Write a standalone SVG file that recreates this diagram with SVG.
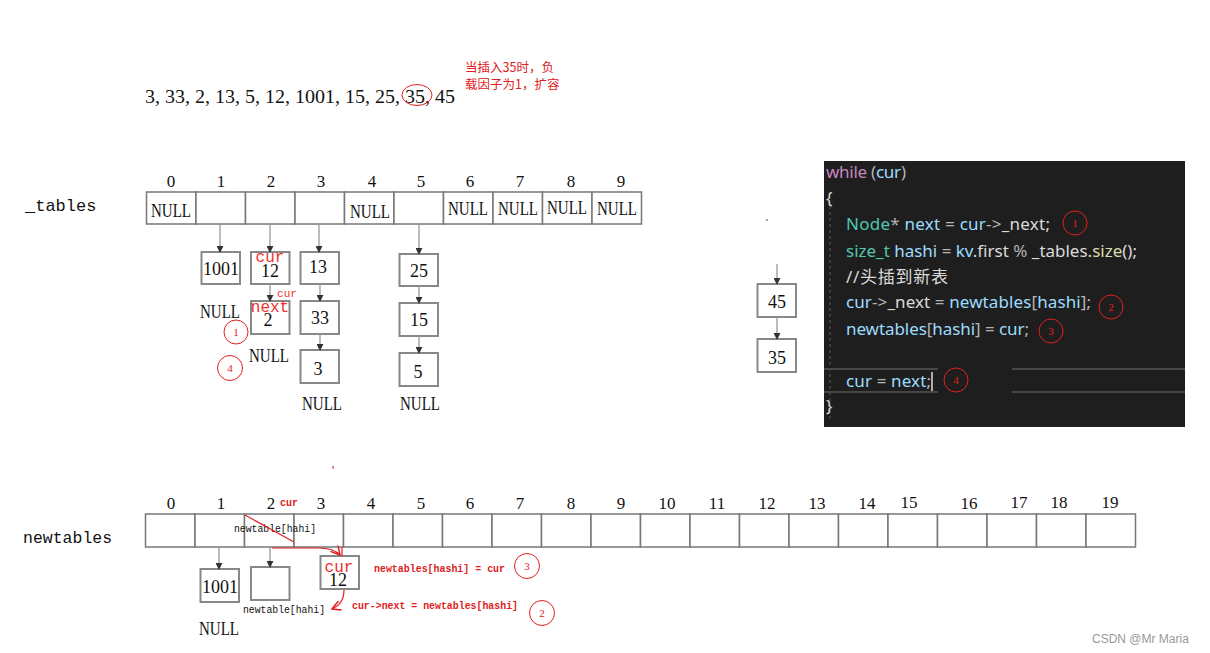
<svg xmlns="http://www.w3.org/2000/svg" width="1210" height="653" viewBox="0 0 1210 653">
<defs>
<marker id="ah" viewBox="0 0 8 8" refX="7" refY="4" markerWidth="7" markerHeight="7" markerUnits="userSpaceOnUse" orient="auto"><path d="M0,0 L8,4 L0,8 z" fill="#333"/></marker>
<marker id="rah" viewBox="0 0 10 10" refX="9" refY="5" markerWidth="10" markerHeight="10" markerUnits="userSpaceOnUse" orient="auto"><path d="M0,0 L9,5 L0,10" fill="none" stroke="#e02020" stroke-width="1.5"/></marker>
</defs>
<style>
.cell{fill:#fff;stroke:#777;stroke-width:1.5}
.box{fill:#fff;stroke:#888;stroke-width:2}
.num{font-family:"Liberation Serif",serif;font-size:18px;fill:#111;text-anchor:middle}
.idx{font-family:"Liberation Serif",serif;font-size:17px;fill:#111;text-anchor:middle}
.null{font-family:"Liberation Serif",serif;font-size:18px;fill:#111;text-anchor:middle}
.lbl{font-family:"Liberation Mono",monospace;fill:#111}
.conn{stroke:#999;stroke-width:1.3;fill:none}
.red{stroke:#e02020;stroke-width:1.2;fill:none}
.rc{fill:none;stroke:#e02020;stroke-width:1}
.rt{font-family:"Liberation Serif",serif;fill:#e02020;text-anchor:middle}
.rmono{font-family:"Liberation Mono",monospace;fill:#f03030;text-anchor:middle}
.rm{font-family:"Liberation Mono",monospace;fill:#e02020;font-weight:bold}
.code{font-family:"Noto Sans","DejaVu Sans","Noto Sans CJK SC",sans-serif;font-size:17px;fill:#dadada}
</style>
<rect width="1210" height="653" fill="#fff"/>

<g id="sequence">
<text x="145" y="103" font-family="Liberation Serif,serif" font-size="19" fill="#111" textLength="310" lengthAdjust="spacingAndGlyphs">3, 33, 2, 13, 5, 12, 1001, 15, 25, 35, 45</text>
<ellipse cx="417" cy="95" rx="15" ry="10.5" class="rc"/>
<text x="465" y="72" font-family="Noto Sans CJK SC,sans-serif" font-size="12.5" fill="#e02020">当插入35时，负</text>
<text x="465" y="89" font-family="Noto Sans CJK SC,sans-serif" font-size="12.5" fill="#e02020">载因子为1，扩容</text>
</g>

<g id="tables_label"><text class="lbl" x="25" y="211" font-size="17">_tables</text></g>

<g id="tables">
<rect class="cell" x="146.5" y="192" width="49.5" height="32"/>
<rect class="cell" x="196" y="192" width="49.5" height="32"/>
<rect class="cell" x="245.5" y="192" width="49.5" height="32"/>
<rect class="cell" x="295" y="192" width="49.5" height="32"/>
<rect class="cell" x="344.5" y="192" width="49.5" height="32"/>
<rect class="cell" x="394" y="192" width="49.5" height="32"/>
<rect class="cell" x="443.5" y="192" width="49.5" height="32"/>
<rect class="cell" x="493" y="192" width="49.5" height="32"/>
<rect class="cell" x="542.5" y="192" width="49.5" height="32"/>
<rect class="cell" x="592" y="192" width="49.5" height="32"/>
<text class="idx" x="171" y="187">0</text><text class="idx" x="221" y="187">1</text><text class="idx" x="271" y="187">2</text><text class="idx" x="321" y="187">3</text><text class="idx" x="372" y="187">4</text><text class="idx" x="421" y="187">5</text><text class="idx" x="470" y="187">6</text><text class="idx" x="520" y="187">7</text><text class="idx" x="571" y="187">8</text><text class="idx" x="621" y="187">9</text>
<text class="null" x="171" y="217" textLength="40" lengthAdjust="spacingAndGlyphs">NULL</text>
<text class="null" x="370" y="218" textLength="40" lengthAdjust="spacingAndGlyphs">NULL</text>
<text class="null" x="468" y="215" textLength="40" lengthAdjust="spacingAndGlyphs">NULL</text>
<text class="null" x="518" y="215" textLength="40" lengthAdjust="spacingAndGlyphs">NULL</text>
<text class="null" x="567" y="214" textLength="40" lengthAdjust="spacingAndGlyphs">NULL</text>
<text class="null" x="617" y="215" textLength="40" lengthAdjust="spacingAndGlyphs">NULL</text>
</g>

<g id="n1001"><rect class="box" x="201.5" y="252" width="38.5" height="32"/><text class="num" x="221" y="275">1001</text><text class="null" x="220" y="318" textLength="40" lengthAdjust="spacingAndGlyphs">NULL</text></g>
<g id="n12"><rect class="box" x="251" y="252" width="38.5" height="32"/><text class="num" x="270" y="277">12</text><text class="rmono" x="270" y="262" font-size="16">cur</text></g>
<g id="n2"><rect class="box" x="251" y="301" width="38.5" height="33"/><text class="num" x="268" y="326">2</text><text class="null" x="269" y="362" textLength="40" lengthAdjust="spacingAndGlyphs">NULL</text>
<text class="rmono" x="287" y="297" font-size="11">cur</text><text class="rmono" x="270" y="312" font-size="16">next</text></g>
<g id="n13"><rect class="box" x="300.5" y="252" width="38.5" height="32"/><text class="num" x="318" y="273">13</text></g>
<g id="n33"><rect class="box" x="300.5" y="301" width="38.5" height="33"/><text class="num" x="320" y="324">33</text></g>
<g id="n3"><rect class="box" x="300.5" y="350" width="38.5" height="33"/><text class="num" x="318" y="375">3</text><text class="null" x="322" y="410" textLength="40" lengthAdjust="spacingAndGlyphs">NULL</text></g>
<g id="n25"><rect class="box" x="399.5" y="254" width="38.5" height="32"/><text class="num" x="419" y="277">25</text></g>
<g id="n15"><rect class="box" x="399.5" y="303" width="38.5" height="33"/><text class="num" x="419" y="326">15</text></g>
<g id="n5"><rect class="box" x="399.5" y="353" width="38.5" height="33"/><text class="num" x="418" y="378">5</text><text class="null" x="420" y="410" textLength="40" lengthAdjust="spacingAndGlyphs">NULL</text></g>
<g id="n45"><rect class="box" x="757.5" y="284" width="38.5" height="33"/><text class="num" x="777" y="308">45</text></g>
<g id="n35"><rect class="box" x="757.5" y="339" width="38.5" height="33"/><text class="num" x="777" y="364">35</text></g>

<g id="marks">
<circle cx="236" cy="332" r="12" class="rc"/><text class="rt" x="236" y="336" font-size="11">1</text>
<circle cx="230" cy="368" r="12.5" class="rc"/><text class="rt" x="230" y="372" font-size="11">4</text>
<circle cx="767" cy="220" r="0.8" fill="#333"/>
<rect x="332.5" y="466" width="1.2" height="2.5" fill="#e02020"/>
</g>

<g id="code">
<rect x="824" y="161" width="361" height="266" fill="#1e1e1e"/>
<line x1="830" y1="206" x2="830" y2="422" stroke="#5a5a5a" stroke-width="1" stroke-dasharray="3,3"/>
<line x1="824" y1="369" x2="938" y2="369" stroke="#474747" stroke-width="2"/>
<line x1="824" y1="392" x2="938" y2="392" stroke="#474747" stroke-width="2"/>
<line x1="1012" y1="369" x2="1185" y2="369" stroke="#474747" stroke-width="2"/>
<line x1="1012" y1="392" x2="1185" y2="392" stroke="#474747" stroke-width="2"/>
<text class="code" x="826" y="178" textLength="80"><tspan fill="#c586c0">while</tspan><tspan fill="#b4b4b4"> (</tspan><tspan fill="#9cdcfe">cur</tspan><tspan fill="#b4b4b4">)</tspan></text>
<text class="code" x="826" y="204" fill="#b4b4b4">{</text>
<text class="code" x="846" y="230" textLength="204"><tspan fill="#4ec9b0">Node</tspan><tspan fill="#b4b4b4">* </tspan><tspan fill="#9cdcfe">next</tspan><tspan fill="#b4b4b4"> = </tspan><tspan fill="#9cdcfe">cur</tspan><tspan fill="#b4b4b4">-&gt;</tspan><tspan fill="#dadada">_next;</tspan></text>
<text class="code" x="846" y="257" textLength="291"><tspan fill="#4ec9b0">size_t</tspan><tspan fill="#dadada"> </tspan><tspan fill="#9cdcfe">hashi</tspan><tspan fill="#b4b4b4"> = </tspan><tspan fill="#9cdcfe">kv</tspan><tspan fill="#dadada">.first </tspan><tspan fill="#b4b4b4">% </tspan><tspan fill="#dadada">_tables.</tspan><tspan fill="#dcdcaa">size</tspan><tspan fill="#dadada">();</tspan></text>
<text class="code" x="846" y="283" fill="#57a64a" textLength="102">//头插到新表</text>
<text class="code" x="846" y="308" textLength="245"><tspan fill="#9cdcfe">cur</tspan><tspan fill="#b4b4b4">-&gt;</tspan><tspan fill="#dadada">_next</tspan><tspan fill="#b4b4b4"> = </tspan><tspan fill="#9cdcfe">newtables</tspan><tspan fill="#b4b4b4">[</tspan><tspan fill="#9cdcfe">hashi</tspan><tspan fill="#b4b4b4">];</tspan></text>
<text class="code" x="846" y="335" textLength="183"><tspan fill="#9cdcfe">newtables</tspan><tspan fill="#b4b4b4">[</tspan><tspan fill="#9cdcfe">hashi</tspan><tspan fill="#b4b4b4">] = </tspan><tspan fill="#9cdcfe">cur</tspan><tspan fill="#b4b4b4">;</tspan></text>
<text class="code" x="846" y="387" textLength="85"><tspan fill="#9cdcfe">cur</tspan><tspan fill="#b4b4b4"> = </tspan><tspan fill="#9cdcfe">next</tspan><tspan fill="#b4b4b4">;</tspan></text>
<line x1="932" y1="372" x2="932" y2="391" stroke="#dcdcdc" stroke-width="1.5"/>
<text class="code" x="826" y="412" fill="#b4b4b4">}</text>
<circle cx="1075" cy="223" r="12" class="rc"/><text class="rt" x="1075" y="227" font-size="11">1</text>
<circle cx="1111" cy="307" r="12" class="rc"/><text class="rt" x="1111" y="311" font-size="11">2</text>
<circle cx="1051" cy="331" r="12" class="rc"/><text class="rt" x="1051" y="335" font-size="11">3</text>
<circle cx="956" cy="380" r="12" class="rc"/><text class="rt" x="956" y="384" font-size="11">4</text>
</g>

<g id="newtables_label"><text class="lbl" x="23" y="543" font-size="16.5">newtables</text></g>

<g id="newtables">
<rect class="cell" x="145.5" y="514" width="49.5" height="33"/>
<rect class="cell" x="195" y="514" width="49.5" height="33"/>
<rect class="cell" x="244.5" y="514" width="49.5" height="33"/>
<rect class="cell" x="294" y="514" width="49.5" height="33"/>
<rect class="cell" x="343.5" y="514" width="49.5" height="33"/>
<rect class="cell" x="393" y="514" width="49.5" height="33"/>
<rect class="cell" x="442.5" y="514" width="49.5" height="33"/>
<rect class="cell" x="492" y="514" width="49.5" height="33"/>
<rect class="cell" x="541.5" y="514" width="49.5" height="33"/>
<rect class="cell" x="591" y="514" width="49.5" height="33"/>
<rect class="cell" x="640.5" y="514" width="49.5" height="33"/>
<rect class="cell" x="690" y="514" width="49.5" height="33"/>
<rect class="cell" x="739.5" y="514" width="49.5" height="33"/>
<rect class="cell" x="789" y="514" width="49.5" height="33"/>
<rect class="cell" x="838.5" y="514" width="49.5" height="33"/>
<rect class="cell" x="888" y="514" width="49.5" height="33"/>
<rect class="cell" x="937.5" y="514" width="49.5" height="33"/>
<rect class="cell" x="987" y="514" width="49.5" height="33"/>
<rect class="cell" x="1036.5" y="514" width="49.5" height="33"/>
<rect class="cell" x="1086" y="514" width="49.5" height="33"/>
<text class="idx" x="171" y="509">0</text><text class="idx" x="221" y="509">1</text><text class="idx" x="271" y="509">2</text><text class="idx" x="321" y="509">3</text><text class="idx" x="371" y="509">4</text><text class="idx" x="421" y="509">5</text><text class="idx" x="470" y="509">6</text><text class="idx" x="520" y="509">7</text><text class="idx" x="571" y="509">8</text><text class="idx" x="621" y="509">9</text><text class="idx" x="667" y="509">10</text><text class="idx" x="717" y="509">11</text><text class="idx" x="767" y="509">12</text><text class="idx" x="817" y="509">13</text><text class="idx" x="867" y="509">14</text><text class="idx" x="909" y="508">15</text><text class="idx" x="969" y="509">16</text><text class="idx" x="1019" y="508">17</text><text class="idx" x="1059" y="508">18</text><text class="idx" x="1110" y="508">19</text>
<text class="rm" x="280" y="506" font-size="10">cur</text>
<text class="lbl" x="234" y="532" font-size="11" textLength="82" lengthAdjust="spacingAndGlyphs">newtable[hahi]</text>
</g>

<g id="nn1001"><rect class="box" x="200.5" y="569" width="38.5" height="33"/><text class="num" x="220" y="593">1001</text><text class="null" x="219" y="635" textLength="40" lengthAdjust="spacingAndGlyphs">NULL</text></g>
<g id="nempty"><rect class="box" x="251" y="567" width="38.5" height="33"/><text class="lbl" x="243" y="613" font-size="11" textLength="82" lengthAdjust="spacingAndGlyphs">newtable[hahi]</text></g>
<g id="nn12"><rect class="box" x="320.5" y="556" width="38.5" height="33"/><text class="rmono" x="339" y="572" font-size="16">cur</text><text class="num" x="338" y="586">12</text></g>

<g id="annotations">
<text class="rm" x="374" y="572" font-size="10.5" textLength="131" lengthAdjust="spacingAndGlyphs">newtables[hashi] = cur</text>
<circle cx="527" cy="566" r="12.5" class="rc"/><text class="rt" x="527" y="570" font-size="11">3</text>
<text class="rm" x="352" y="609" font-size="10.5" textLength="166" lengthAdjust="spacingAndGlyphs">cur-&gt;next = newtables[hashi]</text>
<circle cx="542" cy="613" r="12.5" class="rc"/><text class="rt" x="542" y="617" font-size="11">2</text>
</g>

<g id="connectors">
<line class="conn" x1="220" y1="224" x2="220" y2="252" marker-end="url(#ah)"/>
<line class="conn" x1="270" y1="224" x2="270" y2="252" marker-end="url(#ah)"/>
<line class="conn" x1="319" y1="224" x2="319" y2="252" marker-end="url(#ah)"/>
<line class="conn" x1="419" y1="224" x2="419" y2="254" marker-end="url(#ah)"/>
<line class="conn" x1="270" y1="284" x2="270" y2="301" marker-end="url(#ah)"/>
<line class="conn" x1="320" y1="284" x2="320" y2="301" marker-end="url(#ah)"/>
<line class="conn" x1="320" y1="334" x2="320" y2="350" marker-end="url(#ah)"/>
<line class="conn" x1="419" y1="286" x2="419" y2="303" marker-end="url(#ah)"/>
<line class="conn" x1="419" y1="336" x2="419" y2="353" marker-end="url(#ah)"/>
<line class="conn" x1="777" y1="264" x2="777" y2="284" marker-end="url(#ah)"/>
<line class="conn" x1="777" y1="317" x2="777" y2="339" marker-end="url(#ah)"/>
<line class="conn" x1="219" y1="547" x2="219" y2="569" marker-end="url(#ah)"/>
<line class="conn" x1="270" y1="547" x2="270" y2="567" marker-end="url(#ah)"/>
<line class="red" x1="245" y1="515" x2="294" y2="542"/>
<path class="red" d="M272,548 H318 Q334,548 340,555" marker-end="url(#rah)"/>
<line class="red" x1="342" y1="547" x2="342" y2="556"/>
<path class="red" d="M344,590 Q344,604 332,609" marker-end="url(#rah)"/>
</g>

<g id="watermark"><text x="1092" y="643" font-family="Liberation Sans,sans-serif" font-size="12" fill="#999">CSDN @Mr Maria</text></g>
</svg>
